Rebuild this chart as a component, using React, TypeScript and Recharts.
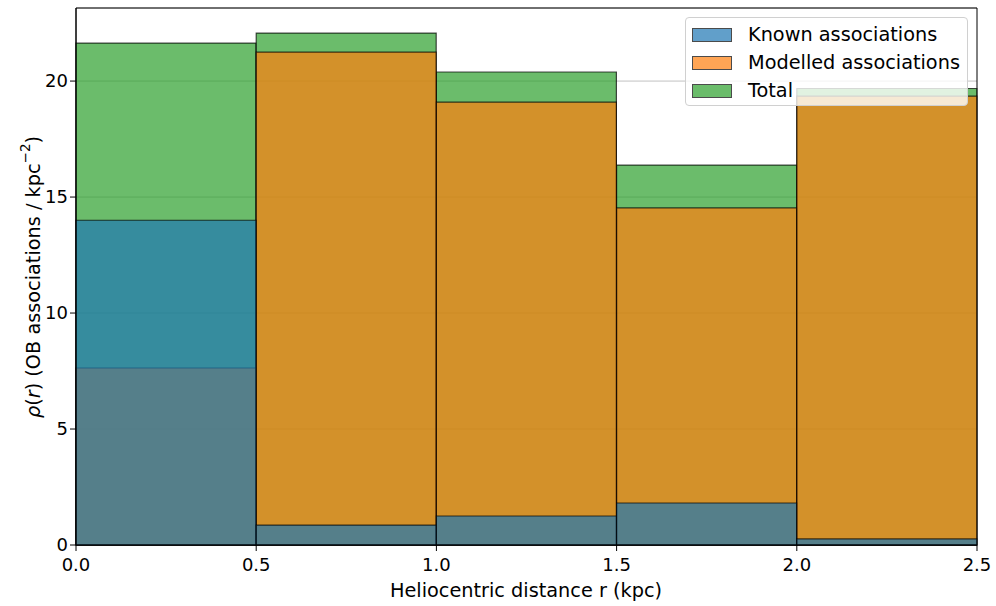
import { ComposedChart, Bar, XAxis, YAxis, CartesianGrid, ReferenceArea } from "recharts";

// histogram bins (kpc) and densities
const BIN_EDGES = [0, 0.5, 1.0, 1.5, 2.0, 2.5];
const BIN_CENTERS = [0.25, 0.75, 1.25, 1.75, 2.25];
const KNOWN = [14.0, 0.86, 1.25, 1.81, 0.26];
const MODELLED = [7.63, 21.25, 19.09, 14.53, 19.35];
const TOTAL = [21.64, 22.07, 20.39, 16.38, 19.68];
const Y_TICKS = [0, 5, 10, 15, 20];
const Y_MAX = 23.15;

const FONT = "DejaVu Sans";
const BLUE = "#1f77b4";
const ORANGE = "#ff7f0e";
const GREEN = "#2ca02c";

const data = BIN_CENTERS.map((x, i) => ({
  x,
  known: KNOWN[i],
  modelled: MODELLED[i],
  total: TOTAL[i],
}));

const legendItems = [
  { name: "Known associations", color: BLUE },
  { name: "Modelled associations", color: ORANGE },
  { name: "Total", color: GREEN },
];

const tickStyle = { fill: "#000", fontSize: 18, fontFamily: FONT };

const barProps = {
  fillOpacity: 0.7,
  stroke: "#000",
  strokeOpacity: 0.7,
  strokeWidth: 1.2,
  isAnimationActive: false,
};

function YLabel() {
  return (
    <text
      transform="translate(33, 277) rotate(-90)"
      textAnchor="middle"
      dominantBaseline="central"
      fontFamily={FONT}
      fontSize={19.3}
      fill="#000"
    >
      <tspan fontStyle="italic">ρ</tspan>
      <tspan>(</tspan>
      <tspan fontStyle="italic">r</tspan>
      <tspan>) (OB associations / kpc</tspan>
      <tspan fontSize={13.5} dy={-8}>−2</tspan>
      <tspan dy={8}>)</tspan>
    </text>
  );
}

function XLabel() {
  return (
    <text x={526} y={597} textAnchor="middle" fontFamily={FONT} fontSize={19.3} fill="#000">
      Heliocentric distance r (kpc)
    </text>
  );
}

function LegendBox() {
  return (
    <div
      style={{
        position: "absolute",
        left: 685,
        top: 17,
        width: 283,
        height: 89,
        boxSizing: "border-box",
        border: "1px solid #d0d0d0",
        borderRadius: 4,
        background: "rgba(255,255,255,0.8)",
        fontFamily: FONT,
        fontSize: 19.3,
        color: "#000",
        pointerEvents: "none",
      }}
    >
      {legendItems.map((it, i) => (
        <div
          key={it.name}
          style={{ position: "absolute", left: 6, top: 6 + i * 28, height: 22, display: "flex", alignItems: "center" }}
        >
          <div
            style={{
              width: 40,
              height: 14,
              boxSizing: "border-box",
              background: it.color,
              opacity: 0.7,
              border: "1px solid #000",
            }}
          />
          <span style={{ marginLeft: 16, whiteSpace: "nowrap", lineHeight: "22px" }}>{it.name}</span>
        </div>
      ))}
    </div>
  );
}

export default function App() {
  return (
    <div style={{ position: "fixed", left: 0, top: 0, width: 996, height: 606, background: "#fff" }}>
      <ComposedChart
        width={996}
        height={606}
        data={data}
        margin={{ top: 8, right: 19, bottom: 0, left: 0 }}
        barCategoryGap={0}
        barGap={0}
      >
        <CartesianGrid xAxisId="main" yAxisId="y" stroke="#b0b0b0" strokeWidth={0.8} vertical={false} />
        <XAxis
          xAxisId="main"
          dataKey="x"
          type="number"
          domain={[0, 2.5]}
          ticks={BIN_EDGES}
          tickFormatter={(v: number) => v.toFixed(1)}
          tick={tickStyle}
          tickSize={6}
          tickMargin={7}
          axisLine={{ stroke: "#000" }}
          tickLine={{ stroke: "#000" }}
          height={61}
          label={<XLabel />}
        />
        <XAxis xAxisId="mod" dataKey="x" type="number" domain={[0, 2.5]} ticks={BIN_EDGES} height={0} hide />
        <XAxis xAxisId="known" dataKey="x" type="number" domain={[0, 2.5]} ticks={BIN_EDGES} height={0} hide />
        <YAxis
          yAxisId="y"
          type="number"
          domain={[0, Y_MAX]}
          ticks={Y_TICKS}
          tick={tickStyle}
          tickSize={6}
          tickMargin={2}
          width={76}
          axisLine={{ stroke: "#000" }}
          tickLine={{ stroke: "#000" }}
          label={<YLabel />}
        />
        <Bar xAxisId="main" yAxisId="y" dataKey="total" name="Total" fill={GREEN} {...barProps} />
        <Bar xAxisId="mod" yAxisId="y" dataKey="modelled" name="Modelled associations" fill={ORANGE} {...barProps} />
        <Bar xAxisId="known" yAxisId="y" dataKey="known" name="Known associations" fill={BLUE} {...barProps} />
        <ReferenceArea
          xAxisId="main"
          yAxisId="y"
          x1={0}
          x2={2.5}
          y1={0}
          y2={Y_MAX}
          fill="none"
          stroke="#000"
          strokeWidth={1}
        />
      </ComposedChart>
      <LegendBox />
    </div>
  );
}
